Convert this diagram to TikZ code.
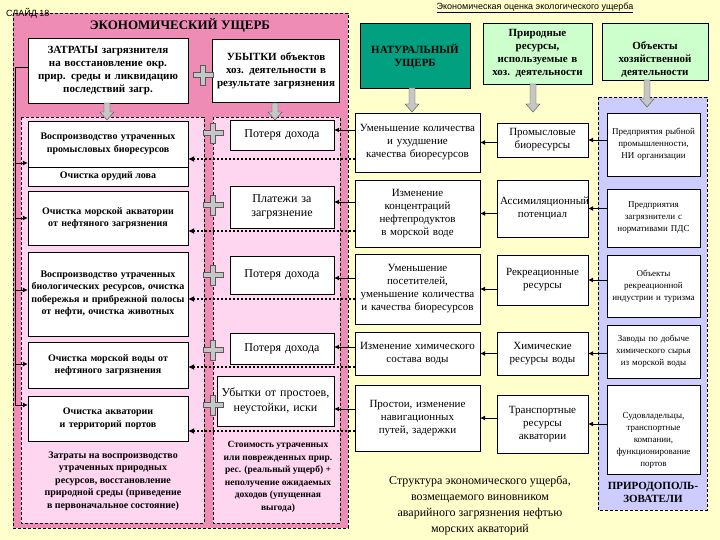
\documentclass[tikz,border=0pt]{standalone}
\usepackage{fontspec}
\setmainfont{Liberation Serif}
\newfontfamily\sansf{Liberation Sans}
\definecolor{bgy}{RGB}{255,255,204}
\definecolor{pinko}{RGB}{238,140,182}
\definecolor{pinki}{RGB}{255,214,240}
\definecolor{teal1}{RGB}{0,160,128}
\definecolor{lgreen}{RGB}{204,255,204}
\definecolor{lav}{RGB}{204,204,255}
\tikzset{
  bx/.style n args={2}{draw=black, fill=white, minimum width=#1pt, minimum height=#2pt, text width=#1pt-6pt, align=center, inner sep=2pt, font=\fontsize{11}{13}\selectfont},
  bb/.style={font=\fontsize{11}{13}\selectfont\bfseries},
  lb/.style={font=\fontsize{10}{12.5}\selectfont\bfseries},
  reg/.style={draw=black, densely dashed, thin},
  sol/.style={draw=black, thick, -{Latex[length=5pt,width=5pt]}},
  dot/.style={draw=black, line width=2pt, dotted, -{Latex[length=6pt,width=6pt]}},
  plusmark/.pic={\draw[fill=gray!45, draw=gray!70!black] (-2.5,-10)--(2.5,-10)--(2.5,-2.5)--(10,-2.5)--(10,2.5)--(2.5,2.5)--(2.5,10)--(-2.5,10)--(-2.5,2.5)--(-10,2.5)--(-10,-2.5)--(-2.5,-2.5)--cycle;},
}
\usetikzlibrary{arrows.meta}
\newcommand{\hollowdown}[3]{\draw[fill=gray!45, draw=gray!60!black] (#1-3,#2)--(#1+3,#2)--(#1+3,#3-8)--(#1+7,#3-8)--(#1,#3)--(#1-7,#3-8)--(#1-3,#3-8)--cycle;}
\begin{document}
\begin{tikzpicture}[x=1pt,y=-1pt]
\fill[bgy] (0,0) rectangle (720,540);
\useasboundingbox (0,0) rectangle (720,540);
\node[font=\sansf\fontsize{9}{10}\selectfont] (ttl) at (535,8) {\underline{Экономическая оценка экологического ущерба}};
% pink region
\draw[reg, fill=pinko] (13,13) rectangle (348,528);
\draw[reg, fill=pinki] (21,117) rectangle (204,523);
\draw[reg, fill=pinki] (213,117) rectangle (340,523);
\node[anchor=west, font=\sansf\fontsize{9}{10}\selectfont, inner sep=1pt] (slide) at (5,13) {СЛАЙД 18};
\node[font=\fontsize{13}{15}\selectfont\bfseries] (ek) at (180,25) {ЭКОНОМИЧЕСКИЙ УЩЕРБ};
\node[bx={160}{65}, bb] (zat) at (108,71) {ЗАТРАТЫ загрязнителя на восстановление окр. прир. среды и ликвидацию последствий загр.};
\node[bx={127}{63}, bb] (ub) at (276,71) {УБЫТКИ объектов хоз. деятельности в результате загрязнения};
\pic at (203,75) {plusmark};
\hollowdown{107}{103}{120}
\hollowdown{275}{103}{120}
% left boxes
\node[bx={160}{65}] (l1) at (108,153.5) {};
\node[lb, align=center, text width=150pt] (l1a) at (108,144) {Воспроизводство утраченных промысловых биоресурсов};
\draw (28,167) -- (188,167);
\node[lb] (l1b) at (108,176.5) {Очистка орудий лова};
\node[bx={160}{54}, lb] (l2) at (108,218) {Очистка морской акватории от нефтяного загрязнения};
\node[bx={160}{84}, lb] (l3) at (108,294) {Воспроизводство утраченных биологических ресурсов, очистка побережья и прибрежной полосы от нефти, очистка животных};
\node[bx={160}{46}, lb] (l4) at (108,365) {Очистка морской воды от нефтяного загрязнения};
\node[bx={160}{45}, lb] (l5) at (108,419) {Очистка акватории и территорий портов};
\node[lb, align=center] (ltxt) at (113,481) {Затраты на воспроизводство\\утраченных природных\\ресурсов, восстановление\\природной среды (приведение\\в первоначальное состояние)};
% right sub boxes
\node[bx={104}{30}, font=\fontsize{12}{14}\selectfont] (r1) at (282,135) {Потеря дохода};
\node[bx={104}{42}, font=\fontsize{12}{14}\selectfont] (r2) at (282,207) {Платежи за загрязнение};
\node[bx={104}{38}, font=\fontsize{12}{14}\selectfont] (r3) at (282,275) {Потеря дохода};
\node[bx={104}{31}, font=\fontsize{12}{14}\selectfont] (r4) at (282,348.5) {Потеря дохода};
\node[bx={117}{50}, font=\fontsize{12}{15}\selectfont] (r5) at (275.5,401) {Убытки от простоев, неустойки, иски};
\node[font=\fontsize{9.5}{12.5}\selectfont\bfseries, align=center] (rtxt) at (278,477) {Стоимость утраченных\\или поврежденных прир.\\рес. (реальный ущерб) +\\неполучение ожидаемых\\доходов (упущенная\\выгода)};
\foreach \y in {133,205,275,350,405} \pic at (213,\y) {plusmark};
% left feed line
\coordinate (lf1) at (15,67);
\coordinate (lf2) at (15,405);
\draw[thick] (zat.west |- lf1) -- (lf1) -- (lf2);
\foreach \n/\y in {l1/163,l2/218,l3/290,l4/364,l5/405} \draw[sol] (15,\y) -- (\n.west |- 0,\y);
% right top headers
\node[bx={110}{65}, fill=teal1, bb, text depth=14pt] (nat) at (415,55.5) {НАТУРАЛЬНЫЙ УЩЕРБ};
\node[bx={109}{61}, fill=lgreen, bb] (pr) at (537.5,53.5) {Природные ресурсы, используемые в хоз. деятельности};
\node[bx={106}{57}, fill=lgreen, bb, text depth=12pt] (ob) at (655,51.5) {Объекты хозяйственной деятельности};
\draw[reg, fill=lav] (598,97) rectangle (707,510);
\hollowdown{412}{88}{112}
\hollowdown{533}{84}{112}
\hollowdown{647}{80}{107}
% col1
\node[bx={125}{59}] (c1a) at (417.5,142.5) {Уменьшение количества и ухудшение качества биоресурсов};
\node[bx={125}{67}] (c1b) at (417.5,213.5) {Изменение концентраций нефтепродуктов в морской воде};
\node[bx={125}{70}] (c1c) at (417.5,289) {Уменьшение посетителей, уменьшение количества и качества биоресурсов};
\node[bx={125}{43}] (c1d) at (417.5,353.5) {Изменение химического состава воды};
\node[bx={125}{66}] (c1e) at (417.5,418) {Простои, изменение навигационных путей, задержки};
% col2
\node[bx={91}{34}] (c2a) at (542.5,140) {Промысловые биоресурсы};
\node[bx={91}{57}] (c2b) at (542.5,208.5) {Ассимиляционный потенциал};
\node[bx={91}{50}, text depth=16pt] (c2c) at (542.5,280) {Рекреационные ресурсы};
\node[bx={91}{43}] (c2d) at (542.5,353.5) {Химические ресурсы воды};
\node[bx={91}{58}] (c2e) at (542.5,424) {Транспортные ресурсы акватории};
% col3
\tikzset{sm/.style={font=\fontsize{9}{12}\selectfont}}
\node[bx={93}{63}, sm] (c3a) at (653.5,144.5) {Предприятия рыбной промышленности, НИ организации};
\node[bx={93}{58}, sm] (c3b) at (653.5,218) {Предприятия загрязнители с нормативами ПДС};
\node[bx={93}{62}, sm] (c3c) at (653.5,286) {Объекты рекреационной индустрии и туризма};
\node[bx={93}{53}, sm] (c3d) at (653.5,351.5) {Заводы по добыче химического сырья из морской воды};
\node[bx={93}{89}, sm, text depth=28pt] (c3e) at (653.5,429.5) {Судовладельцы, транспортные компании, функционирование портов};
\node[bb, align=center] (pp) at (653,492) {ПРИРОДОПОЛЬ-\\ЗОВАТЕЛИ};
% arrows between columns
\foreach \a/\b in {c3a/c2a,c3b/c2b,c3c/c2c,c3d/c2d,c3e/c2e,c2a/c1a,c2b/c1b,c2c/c1c,c2d/c1d,c2e/c1e}
  \draw[sol] (\a.west |- \b.east) -- (\b.east);
% arrows col1 -> right sub boxes
\foreach \a/\b/\y in {c1a/r1/130,c1b/r2/202,c1c/r3/278,c1d/r4/347,c1e/r5/409}
  \draw[sol] (\a.west |- 0,\y) -- (\b.east |- 0,\y);
% dotted arrows col1 -> left boxes
\foreach \a/\b/\y in {c1a/l1/159,c1b/l2/231,c1c/l3/299,c1d/l4/367,c1e/l5/431}
  \draw[dot] (\a.west |- 0,\y) -- (\b.east |- 0,\y);
\node[font=\fontsize{12}{16}\selectfont, align=center] (cap) at (480,505) {Структура экономического ущерба,\\возмещаемого виновником\\аварийного загрязнения нефтью\\морских акваторий};
\end{tikzpicture}
\end{document}
